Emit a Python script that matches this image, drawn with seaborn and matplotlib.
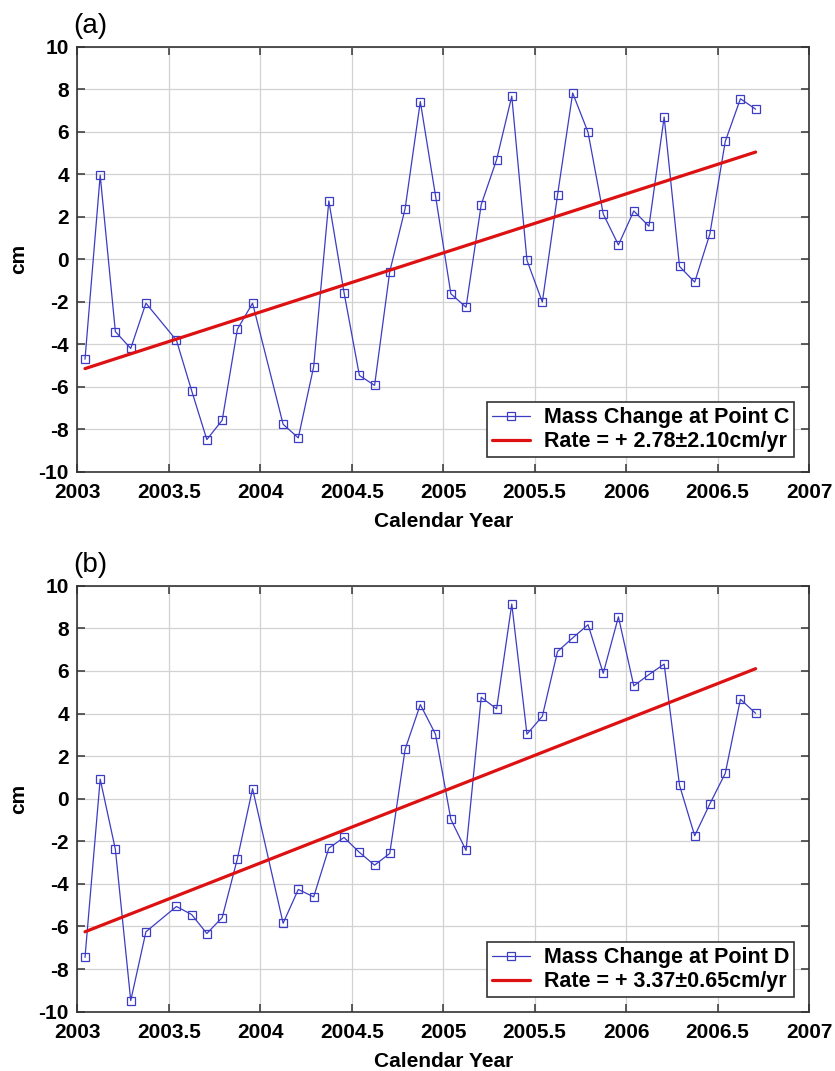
import numpy as np
import pandas as pd
import matplotlib
matplotlib.use("Agg")
import matplotlib.pyplot as plt
import seaborn as sns

# ---- data ----
years = [2003.042, 2003.125, 2003.208, 2003.292, 2003.375, 2003.542, 2003.625,
         2003.708, 2003.792, 2003.875, 2003.958, 2004.125, 2004.208, 2004.292,
         2004.375, 2004.458, 2004.542, 2004.625, 2004.708, 2004.792, 2004.875,
         2004.958, 2005.042, 2005.125, 2005.208, 2005.292, 2005.375, 2005.458,
         2005.542, 2005.625, 2005.708, 2005.792, 2005.875, 2005.958, 2006.042,
         2006.125, 2006.208, 2006.292, 2006.375, 2006.458, 2006.542, 2006.625,
         2006.708]

mass_c = [-4.71, 3.95, -3.41, -4.20, -2.07, -3.82, -6.19, -8.49, -7.58, -3.30,
          -2.07, -7.77, -8.41, -5.06, 2.74, -1.57, -5.47, -5.94, -0.58, 2.38,
          7.42, 2.99, -1.63, -2.26, 2.57, 4.68, 7.67, -0.05, -2.02, 3.01,
          7.82, 5.97, 2.13, 0.67, 2.27, 1.55, 6.69, -0.34, -1.08, 1.19,
          5.54, 7.55, 7.06]

mass_d = [-7.45, 0.92, -2.38, -9.48, -6.25, -5.06, -5.44, -6.33, -5.58, -2.82,
          0.47, -5.85, -4.26, -4.61, -2.32, -1.82, -2.52, -3.12, -2.57, 2.32,
          4.42, 3.03, -0.97, -2.43, 4.76, 4.22, 9.14, 3.03, 3.87, 6.91,
          7.55, 8.17, 5.89, 8.54, 5.30, 5.83, 6.32, 0.63, -1.74, -0.24,
          1.19, 4.67, 4.01]

rate_c, rate_c_err, trend_c_start = 2.78, 2.10, -5.15
rate_d, rate_d_err, trend_d_start = 3.37, 0.65, -6.25

x_ticks = [2003, 2003.5, 2004, 2004.5, 2005, 2005.5, 2006, 2006.5, 2007]
x_ticklabels = ["2003", "2003.5", "2004", "2004.5", "2005", "2005.5", "2006", "2006.5", "2007"]
y_ticks = [-10, -8, -6, -4, -2, 0, 2, 4, 6, 8, 10]

panels = [
    ("(a)", mass_c, rate_c, rate_c_err, trend_c_start, "Mass Change at Point C"),
    ("(b)", mass_d, rate_d, rate_d_err, trend_d_start, "Mass Change at Point D"),
]

# ---- style ----
sns.set_theme(style="white")
plt.rcParams["font.family"] = ["Liberation Sans", "DejaVu Sans"]
plt.rcParams["font.weight"] = "bold"
plt.rcParams["text.color"] = "black"

BLUE = "#3c3cc4"
RED = "#dd1111"
FS = 15

fig = plt.figure(figsize=(8.35, 10.71), dpi=100)
ax_rects = [
    [0.0926, 0.5596, 0.8763, 0.3968],
    [0.0926, 0.0554, 0.8763, 0.3977],
]

for rect, (tag, vals, rate, err, start, lab) in zip(ax_rects, panels):
    ax = fig.add_axes(rect)
    df = pd.DataFrame({"year": years, "cm": vals})
    sns.lineplot(data=df, x="year", y="cm", ax=ax, color=BLUE, linewidth=0.9,
                 marker="s", markersize=6, markerfacecolor="none",
                 markeredgecolor=BLUE, markeredgewidth=0.9,
                 label=lab, zorder=3)
    t_end = [years[0], years[-1]]
    trend = pd.DataFrame({"year": t_end,
                          "cm": [start + rate * (t - years[0]) for t in t_end]})
    sns.lineplot(data=trend, x="year", y="cm", ax=ax, color=RED, linewidth=2.3,
                 label=f"Rate = + {rate:.2f}\u00b1{err:.2f}cm/yr", zorder=4)

    ax.set_xlim(2003, 2007)
    ax.set_ylim(-10, 10)
    ax.set_xticks(x_ticks)
    ax.set_xticklabels(x_ticklabels)
    ax.set_yticks(y_ticks)
    ax.set_yticklabels([str(v) for v in y_ticks])
    ax.grid(True, color="#d2d2d2", linewidth=0.9)
    ax.set_axisbelow(True)
    for s in ax.spines.values():
        s.set_color("#333333")
        s.set_linewidth(1.2)
    ax.tick_params(axis="both", direction="in", length=5.5, width=1.1,
                   color="#333333", top=True, right=True, bottom=True, left=True,
                   labelsize=FS, labelcolor="black")
    ax.tick_params(axis="x", pad=8.5)
    ax.tick_params(axis="y", pad=6.0)
    for t in ax.get_xticklabels() + ax.get_yticklabels():
        t.set_fontweight("bold")

    ax.set_xlabel("Calendar Year", fontsize=FS, fontweight="bold", color="black")
    ax.xaxis.set_label_coords(0.5, -0.095)
    ax.set_ylabel("cm", fontsize=FS, fontweight="bold", color="black", va="center")
    ax.yaxis.set_label_coords(-0.0804, 0.5)

    ax.text(-0.006, 1.049, tag, transform=ax.transAxes, fontsize=20,
            fontweight="normal", ha="left", va="center", color="black")

    leg = ax.legend(loc="lower right", fontsize=15.5, frameon=True, fancybox=False,
                    shadow=False, borderaxespad=0.68, handlelength=1.8,
                    handletextpad=0.65, labelspacing=0.15, borderpad=0.22)
    leg.get_frame().set_edgecolor("#333333")
    leg.get_frame().set_linewidth(1.2)
    leg.get_frame().set_alpha(1)
    for txt in leg.get_texts():
        txt.set_fontweight("bold")
        txt.set_color("black")

fig.savefig("out.png", dpi=100)
